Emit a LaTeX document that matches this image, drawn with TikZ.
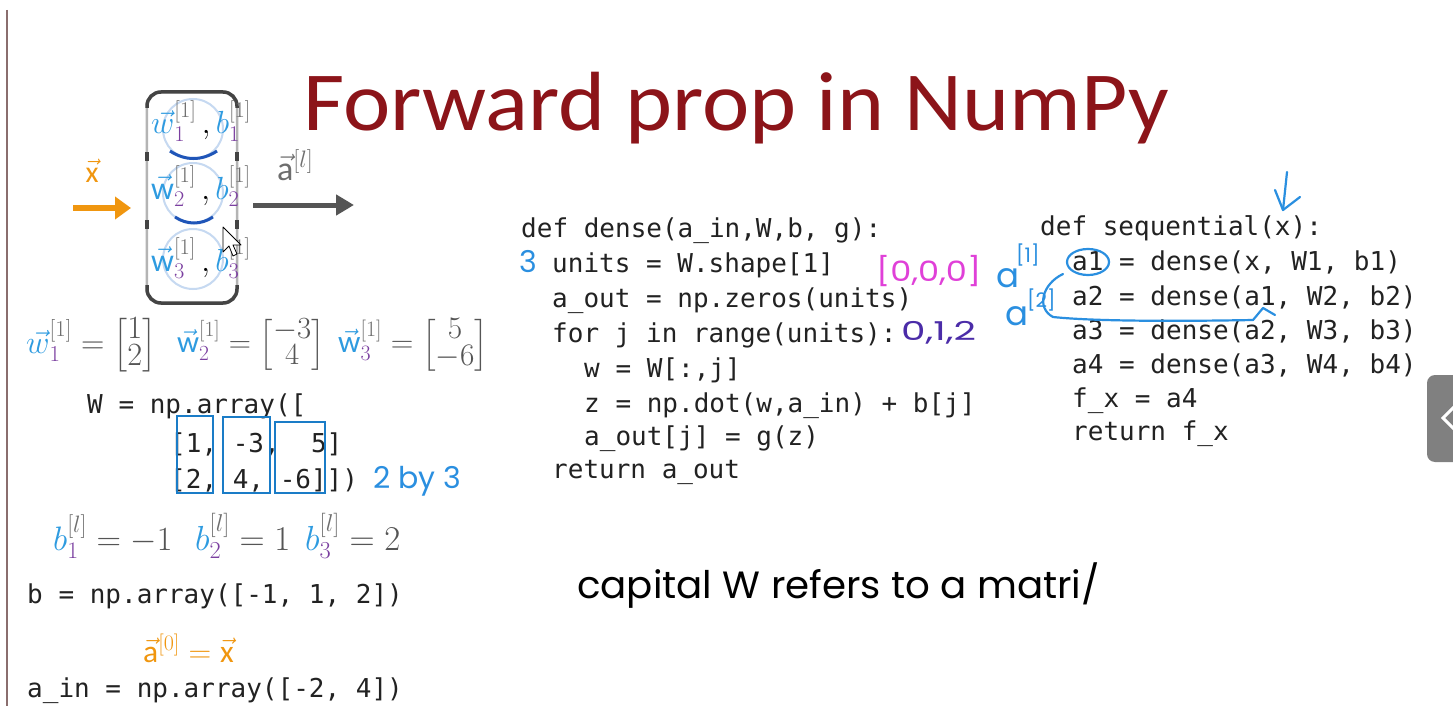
\RequirePackage{fix-cm}
\documentclass[tikz,border=0pt]{standalone}
\usepackage{amsmath}
\usepackage{graphicx}
\usepackage{fontspec}
\setmainfont{Carlito}
\setmonofont{DejaVu Sans Mono}
\newfontfamily\hand{Poppins}
\usetikzlibrary{arrows.meta}
\definecolor{titlered}{HTML}{8C1419}
\definecolor{wblue}{HTML}{2E9BE0}
\definecolor{subp}{HTML}{7B3FA0}
\definecolor{supg}{HTML}{6E6E6E}
\definecolor{numg}{HTML}{555555}
\definecolor{orng}{HTML}{F0960F}
\definecolor{arrg}{HTML}{555555}
\definecolor{boxblue}{HTML}{1A7CC7}
\definecolor{hblue}{HTML}{2A8FE0}
\definecolor{hmag}{HTML}{E040D8}
\definecolor{hpurp}{HTML}{4B2CA8}
\definecolor{codec}{HTML}{222222}
\definecolor{cblue}{HTML}{C6D9F1}
\definecolor{dblue}{HTML}{1F55B8}
\definecolor{framed}{HTML}{444444}
\definecolor{framel}{HTML}{B4B4B4}
\definecolor{tabg}{HTML}{808080}
\definecolor{edge}{HTML}{8A6E6E}
\newcommand\wv[3]{\textcolor{wblue}{\vec{#1}}_{\textcolor{subp}{#2}}^{\textcolor{supg}{[#3]}}}
\newcommand\bv[2]{\textcolor{wblue}{b}_{\textcolor{subp}{#1}}^{\textcolor{supg}{[#2]}}}
\tikzset{
  code/.style={anchor=base west, inner sep=0pt, text=codec, font=\ttfamily\fontsize{26}{30}\selectfont},
  mathlbl/.style={anchor=base west, inner sep=0pt, font=\fontsize{32}{32}\selectfont},
  vecl/.style={anchor=west, inner sep=0pt, font=\fontsize{27}{27}\selectfont},
  bline/.style={anchor=base west, inner sep=0pt, font=\fontsize{30}{30}\selectfont},
  handw/.style={anchor=base west, inner sep=0pt, font=\hand\fontsize{#1}{#1}\selectfont},
  neuron/.style={circle, draw=cblue, line width=2pt, minimum size=60pt, inner sep=0pt},
  colbox/.style={draw=boxblue, line width=2.8pt},
  hstroke/.style={hblue, line width=2.2pt, line cap=round, line join=round},
}
\begin{document}
\begin{tikzpicture}[x=1pt,y=-1pt]
\useasboundingbox (0,0) rectangle (1453,706);
\fill[white] (0,0) rectangle (1453,706);
\draw[edge, line width=1.5pt] (7,10) -- (7,706);

% title
\node[anchor=base west, inner sep=0pt, text=titlered] (title) at (303,131) {\scalebox{1.067}[1]{\fontsize{84}{84}\selectfont Forward prop in NumPy}};

% layer diagram
\node[minimum width=90pt, minimum height=211pt, inner sep=0pt] (layer) at (192,197.5) {};
\draw[framel, line width=2.5pt, rounded corners=14pt] (layer.north west) rectangle (layer.south east);
\draw[framed, line width=3.5pt, rounded corners=14pt] (147,108) -- (147,92) -- (237,92) -- (237,108);
\draw[framed, line width=3.5pt, rounded corners=14pt] (147,285) -- (147,303) -- (237,303) -- (237,285);
\foreach \yy in {152,220} {
  \draw[framed, line width=3.5pt] (147,\yy) -- (147,\yy+9);
  \draw[framed, line width=3.5pt] (237,\yy) -- (237,\yy+9);
}
\node[neuron] (n1) at (193,129) {};
\node[neuron] (n2) at (193,193) {};
\node[neuron] (n3) at (193,259) {};
\draw[dblue, line width=3pt] (170,151) .. controls (185,161) and (202,161) .. (217,151);
\draw[dblue, line width=3pt] (175,217) .. controls (187,225) and (201,225) .. (213,217);
\node[mathlbl] (l1) at (151,134) {$\wv{w}{1}{1}\,{,}\,\bv{1}{1}$};
\node[mathlbl] (l2) at (151,199) {$\wv{\mathrm{w}}{2}{1}\,{,}\,\bv{2}{1}$};
\node[mathlbl] (l3) at (151,271) {$\wv{\mathrm{w}}{3}{1}\,{,}\,\bv{3}{1}$};

\coordinate (xin) at (73,208);
\coordinate (xend) at (131,208);
\draw[orng, line width=6pt, -{Triangle[length=16pt,width=22pt]}] (xin) -- (xend);
\node[anchor=base, inner sep=0pt, font=\fontsize{30}{30}\selectfont] (xlab) at (92,182) {$\textcolor{orng}{\vec{\mathrm{x}}}$};
\coordinate (aout) at (253,205);
\coordinate (aend) at (354,205);
\draw[arrg, line width=5pt, -{Triangle[length=18pt,width=20pt]}] (aout) -- (aend);
\node[anchor=base west, inner sep=0pt, font=\fontsize{34}{34}\selectfont] (alab) at (277,180) {$\textcolor{supg}{\vec{\mathrm{a}}^{[l]}}$};

% mouse cursor
\draw[black, fill=white, line width=0.8pt, line join=round] (223,227) -- (223,252) -- (229,246) -- (233,256) -- (237,254) -- (233,245) -- (241,245) -- cycle;

% vectors
\node[vecl] (w1) at (26,345) {\scalebox{1.2}{\def\arraystretch{0.72}$\wv{w}{1}{1}\; \textcolor{numg}{= \begin{bmatrix}1\\2\end{bmatrix}}$}};
\node[vecl] (w2) at (177,345) {\scalebox{1.14}{\def\arraystretch{0.72}$\wv{\mathrm{w}}{2}{1}\; \textcolor{numg}{= \begin{bmatrix}-3\\4\end{bmatrix}}$}};
\node[vecl] (w3) at (338,345) {\scalebox{1.16}{\def\arraystretch{0.72}$\wv{\mathrm{w}}{3}{1}\; \textcolor{numg}{= \begin{bmatrix}5\\-6\end{bmatrix}}$}};

% W code
\node[code] (Wl0) at (87,413) {W = np.array([};
\node[code] (Wl1) at (170,452) {[1, -3, \phantom{0}5]};
\node[code] (Wl2) at (170,488) {[2, 4, -6]])};
\draw[colbox] (177,416) rectangle (213,493);
\draw[colbox] (223,417) rectangle (270,493);
\draw[colbox] (275,422) rectangle (325,493);
\node[handw=30, text=hblue] (by) at (373,488) {2 by 3};

% b values
\node[bline] (b1) at (53,550) {\scalebox{1.13}{$\bv{1}{l}\; \textcolor{numg}{= -1}$}};
\node[bline] (b2) at (195,550) {\scalebox{1.16}{$\bv{2}{l}\; \textcolor{numg}{= 1}$}};
\node[bline] (b3) at (305,550) {\scalebox{1.16}{$\bv{3}{l}\; \textcolor{numg}{= 2}$}};
\node[code] (bcode) at (27,603) {b = np.array([-1, 1, 2])};
\node[bline, text=orng] (a0) at (143,662) {\scalebox{1.05}{$\vec{\mathrm{a}}^{[0]} = \vec{\mathrm{x}}$}};
\node[code] (aincode) at (27,697) {a\_in = np.array([-2, 4])};

% dense function
\node[code] (d0) at (521,237) {def dense(a\_in,W,b, g):};
\node[code] (d1) at (552,272) {units = W.shape[1]};
\node[code] (d2) at (552,307) {a\_out = np.zeros(units)};
\node[code] (d3) at (552,342) {for j in range(units):};
\node[code] (d4) at (584,377) {w = W[:,j]};
\node[code] (d5) at (584,412) {z = np.dot(w,a\_in) + b[j]};
\node[code] (d6) at (584,445) {a\_out[j] = g(z)};
\node[code] (d7) at (552,478) {return a\_out};
\node[handw=30, text=hblue] (three) at (519,272) {3};
\node[handw=28, text=hmag] (zeros) at (876,281) {\scalebox{1.2}[1]{[0,0,0]}};
\node[handw=26, text=hpurp] (idx) at (901,340) {\scalebox{1.5}[1]{0,1,2}};

% sequential function
\node[code] (s0) at (1040,235) {def sequential(x):};
\node[code] (s1) at (1072,270) {a1 = dense(x, W1, b1)};
\node[code] (s2) at (1072,305) {a2 = dense(a1, W2, b2)};
\node[code] (s3) at (1072,339) {a3 = dense(a2, W3, b3)};
\node[code] (s4) at (1072,373) {a4 = dense(a3, W4, b4)};
\node[code] (s5) at (1072,407) {f\_x = a4};
\node[code] (s6) at (1072,440) {return f\_x};

% annotations on sequential
\node[handw=34, text=hblue] (ann1) at (996,287) {a};
\node[handw=20, text=hblue] (ann1s) at (1016,262) {[1]};
\node[handw=34, text=hblue] (ann2) at (1005,325) {a};
\node[handw=20, text=hblue] (ann2s) at (1027,307) {[2]};
\draw[hstroke] (1088,262) ellipse [x radius=21, y radius=13];
\coordinate (cstart) at (1063,274);
\coordinate (cturn) at (1053,317);
\coordinate (cend) at (1253,320);
\coordinate (ctip) at (1263,308);
\coordinate (cright) at (1275,315);
\draw[hstroke] (cstart) .. controls (1042,284) and (1036,308) .. (cturn) .. controls (1100,322) and (1200,321) .. (cend) -- (ctip) -- (cright);
\coordinate (dtop) at (1287,172);
\coordinate (dbot) at (1283,210);
\draw[hstroke] (dtop) -- (dbot);
\draw[hstroke] (1275,190) -- (dbot) -- (1300,197);

% handwritten note
\node[handw=38, text=black] (note) at (577,598) {\scalebox{1.02}[1]{capital W refers to a matri/}};

% side tab
\fill[tabg, rounded corners=8pt] (1427,375) rectangle (1470,462);
\draw[white, line width=3pt] (1455,406) -- (1443,418) -- (1455,430);
\end{tikzpicture}
\end{document}
